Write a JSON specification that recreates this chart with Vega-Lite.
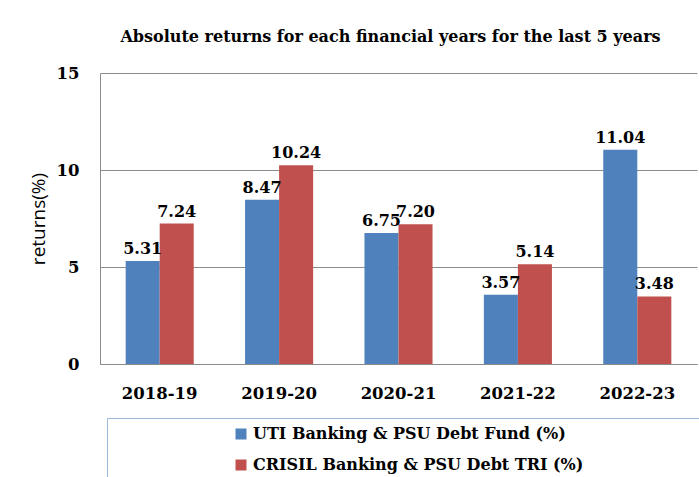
{
  "$schema": "https://vega.github.io/schema/vega-lite/v6.json",
  "autosize": {"type": "none"},
  "width": 597,
  "height": 291,
  "padding": {"left": 100, "top": 73, "right": 2, "bottom": 113},
  "background": "white",
  "title": {
    "text": "Absolute returns for each financial years for the last 5 years",
    "font": "DejaVu Serif",
    "fontSize": 16,
    "fontWeight": "bold",
    "color": "#000000",
    "anchor": "middle",
    "frame": "group",
    "offset": 20,
    "dx": -8
  },
  "data": {
    "values": [
      {"year": "2018-19", "series": "UTI Banking & PSU Debt Fund (%)", "value": 5.31},
      {"year": "2018-19", "series": "CRISIL Banking & PSU Debt TRI (%)", "value": 7.24},
      {"year": "2019-20", "series": "UTI Banking & PSU Debt Fund (%)", "value": 8.47},
      {"year": "2019-20", "series": "CRISIL Banking & PSU Debt TRI (%)", "value": 10.24},
      {"year": "2020-21", "series": "UTI Banking & PSU Debt Fund (%)", "value": 6.75},
      {"year": "2020-21", "series": "CRISIL Banking & PSU Debt TRI (%)", "value": 7.20},
      {"year": "2021-22", "series": "UTI Banking & PSU Debt Fund (%)", "value": 3.57},
      {"year": "2021-22", "series": "CRISIL Banking & PSU Debt TRI (%)", "value": 5.14},
      {"year": "2022-23", "series": "UTI Banking & PSU Debt Fund (%)", "value": 11.04},
      {"year": "2022-23", "series": "CRISIL Banking & PSU Debt TRI (%)", "value": 3.48}
    ]
  },
  "encoding": {
    "x": {
      "field": "year",
      "type": "nominal",
      "sort": null,
      "scale": {"paddingInner": 0.43, "paddingOuter": 0.215},
      "axis": {
        "title": null,
        "labelAngle": 0,
        "labelFont": "DejaVu Serif",
        "labelFontSize": 16.5,
        "labelFontWeight": "bold",
        "labelColor": "#000000",
        "labelPadding": 21,
        "ticks": false,
        "domainColor": "#8c8c8c",
        "grid": false
      }
    },
    "xOffset": {
      "field": "series",
      "type": "nominal",
      "sort": ["UTI Banking & PSU Debt Fund (%)", "CRISIL Banking & PSU Debt TRI (%)"],
      "scale": {"paddingInner": 0, "paddingOuter": 0}
    },
    "y": {
      "field": "value",
      "type": "quantitative",
      "scale": {"domain": [0, 15], "nice": false},
      "axis": {
        "values": [0, 5, 10, 15],
        "title": "returns(%)",
        "titleFont": "Open Sans",
        "titleFontSize": 19,
        "titleFontWeight": "normal",
        "titleColor": "#000000",
        "titlePadding": 8,
        "labelFont": "DejaVu Serif",
        "labelFontSize": 16.5,
        "labelFontWeight": "bold",
        "labelColor": "#000000",
        "labelPadding": 21,
        "ticks": false,
        "domainColor": "#8c8c8c",
        "grid": true,
        "gridColor": "#8c8c8c",
        "gridWidth": 1
      }
    }
  },
  "layer": [
    {
      "mark": {"type": "bar"},
      "encoding": {
        "color": {
          "field": "series",
          "type": "nominal",
          "sort": ["UTI Banking & PSU Debt Fund (%)", "CRISIL Banking & PSU Debt TRI (%)"],
          "scale": {"range": ["#4F81BD", "#C0504D"]},
          "legend": {
            "title": "\u00a0",
            "titleOrient": "right",
            "titlePadding": 118,
            "orient": "none",
            "legendX": 7,
            "legendY": 345,
            "direction": "vertical",
            "symbolType": "square",
            "symbolSize": 121,
            "symbolStrokeWidth": 0,
            "symbolOffset": 118,
            "labelFont": "DejaVu Serif",
            "labelFontSize": 16,
            "labelFontWeight": "bold",
            "labelColor": "#000000",
            "labelLimit": 500,
            "labelOffset": 4,
            "rowPadding": 15,
            "padding": 8,
            "strokeColor": "#9bb7d9",
            "fillColor": "white"
          }
        }
      }
    },
    {
      "mark": {
        "type": "text",
        "baseline": "alphabetic",
        "dy": -7,
        "font": "DejaVu Serif",
        "fontSize": 16,
        "fontWeight": "bold",
        "color": "#000000"
      },
      "encoding": {
        "text": {"field": "value", "type": "quantitative", "format": ".2f"}
      }
    }
  ],
  "config": {"view": {"stroke": null}}
}
